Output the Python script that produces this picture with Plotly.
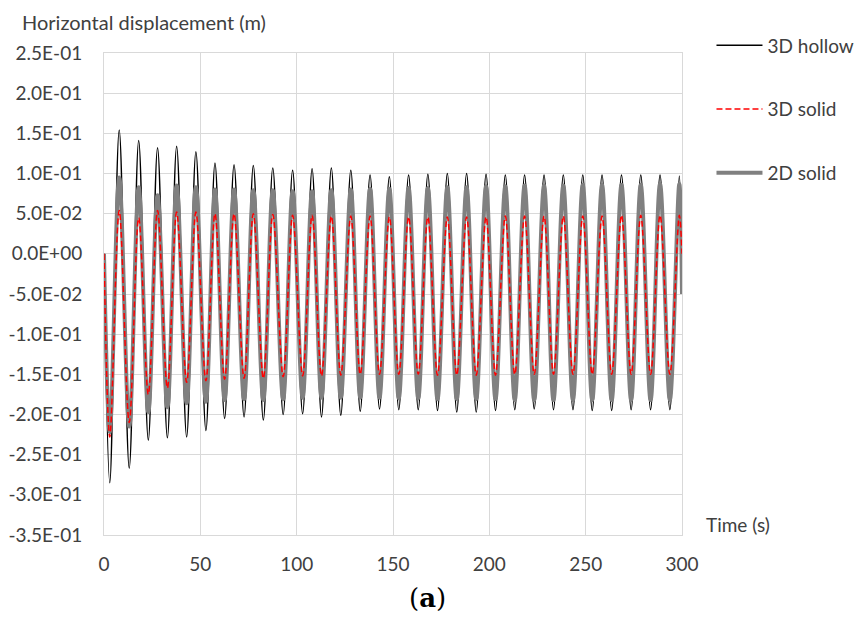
import plotly.graph_objects as go

# Times (s) of the troughs and peaks (all three series are in phase)
trough_t = [3.0, 13.1, 23.0, 32.9, 42.9, 52.9, 62.6, 72.7, 82.7, 93.0,
            103.1, 112.9, 122.9, 133.0, 143.0, 153.0, 163.1, 173.1, 183.1, 193.2,
            203.2, 213.2, 223.3, 233.3, 243.4, 253.4, 263.5, 273.6, 283.7, 293.7]
peak_t = [7.9, 18.0, 27.8, 37.7, 47.7, 57.6, 67.5, 77.5, 87.6, 97.9,
          108.0, 118.0, 128.1, 138.1, 148.1, 158.1, 168.1, 178.2, 188.2, 198.3,
          208.3, 218.3, 228.4, 238.4, 248.5, 258.5, 268.6, 278.6, 288.6, 298.6]
start_t = 0.0
end_t = 300.0

# 3D hollow (black)
hollow_troughs = [-0.285, -0.267, -0.232, -0.229, -0.228, -0.220, -0.205, -0.203, -0.207, -0.200,
                  -0.199, -0.203, -0.201, -0.196, -0.193, -0.194, -0.194, -0.195, -0.197, -0.197,
                  -0.195, -0.194, -0.193, -0.194, -0.194, -0.195, -0.195, -0.194, -0.194, -0.194]
hollow_peaks = [0.154, 0.141, 0.132, 0.134, 0.127, 0.113, 0.111, 0.110, 0.107, 0.104,
                0.106, 0.107, 0.104, 0.098, 0.096, 0.098, 0.099, 0.100, 0.100, 0.099,
                0.098, 0.098, 0.098, 0.098, 0.098, 0.098, 0.098, 0.098, 0.098, 0.097]
hollow_start, hollow_end = 0.0, -0.05

# 3D solid (red dashed)
solid3d_troughs = [-0.228, -0.210, -0.175, -0.167, -0.160, -0.158, -0.156, -0.155, -0.155, -0.153,
                   -0.152, -0.152, -0.151, -0.150, -0.150, -0.150, -0.150, -0.151, -0.151, -0.151,
                   -0.151, -0.150, -0.150, -0.150, -0.150, -0.150, -0.150, -0.150, -0.150, -0.150]
solid3d_peaks = [0.054, 0.045, 0.054, 0.052, 0.052, 0.050, 0.050, 0.050, 0.049, 0.048,
                 0.048, 0.047, 0.047, 0.047, 0.046, 0.046, 0.046, 0.046, 0.046, 0.046,
                 0.047, 0.047, 0.047, 0.047, 0.047, 0.047, 0.048, 0.048, 0.048, 0.048]
solid3d_start, solid3d_end = 0.0, 0.0

# 2D solid (grey)
solid2d_troughs = [-0.222, -0.215, -0.197, -0.191, -0.186, -0.184, -0.182, -0.181, -0.182, -0.181,
                   -0.179, -0.179, -0.179, -0.179, -0.179, -0.180, -0.180, -0.181, -0.181, -0.181,
                   -0.181, -0.182, -0.182, -0.182, -0.182, -0.182, -0.182, -0.182, -0.182, -0.182]
solid2d_peaks = [0.095, 0.083, 0.073, 0.085, 0.083, 0.080, 0.080, 0.079, 0.079, 0.078,
                 0.078, 0.079, 0.080, 0.081, 0.081, 0.082, 0.082, 0.083, 0.083, 0.084,
                 0.084, 0.085, 0.085, 0.085, 0.086, 0.086, 0.086, 0.086, 0.087, 0.087]
solid2d_start, solid2d_end = 0.0, -0.05

y_tickvals = [0.25, 0.20, 0.15, 0.10, 0.05, 0.0, -0.05, -0.10, -0.15, -0.20, -0.25, -0.30, -0.35]
y_ticktext = ["2.5E-01", "2.0E-01", "1.5E-01", "1.0E-01", "5.0E-02", "0.0E+00", "-5.0E-02",
              "-1.0E-01", "-1.5E-01", "-2.0E-01", "-2.5E-01", "-3.0E-01", "-3.5E-01"]
x_tickvals = [0, 50, 100, 150, 200, 250, 300]


def build(start, troughs, peaks, end):
    xs, ys = [start_t], [start]
    for tt, tv, pt, pv in zip(trough_t, troughs, peak_t, peaks):
        xs += [tt, pt]
        ys += [tv, pv]
    xs.append(end_t)
    ys.append(end)
    return xs, ys


FONT = "Lato"
TXT = "#404040"
fig = go.Figure()

x, y = build(hollow_start, hollow_troughs, hollow_peaks, hollow_end)
fig.add_trace(go.Scatter(x=x, y=y, mode="lines", name="3D hollow", legendrank=1,
                         legendgroup="a", line=dict(color="#000000", width=1.5,
                                                    shape="spline", smoothing=1.0)))
x, y = build(solid2d_start, solid2d_troughs, solid2d_peaks, solid2d_end)
fig.add_trace(go.Scatter(x=x, y=y, mode="lines", name="2D solid", legendrank=3,
                         legendgroup="c", line=dict(color="#808080", width=4,
                                                    shape="spline", smoothing=1.0)))
x, y = build(solid3d_start, solid3d_troughs, solid3d_peaks, solid3d_end)
fig.add_trace(go.Scatter(x=x, y=y, mode="lines", name="3D solid", legendrank=2,
                         legendgroup="b", line=dict(color="#ff0000", width=1.5, dash="6px,3px",
                                                    shape="spline", smoothing=1.0)))

fig.update_layout(
    width=855, height=619,
    margin=dict(l=104, r=173, t=53, b=84, autoexpand=False),
    paper_bgcolor="white", plot_bgcolor="white",
    font=dict(family=FONT, size=19, color=TXT),
    showlegend=True,
    legend=dict(x=1.051, xanchor="left", y=1.055, yanchor="top",
                traceorder="grouped", tracegroupgap=36,
                font=dict(family=FONT, size=19, color=TXT),
                itemwidth=46, bgcolor="rgba(0,0,0,0)"),
    xaxis=dict(range=[0, 300], tickvals=x_tickvals, showgrid=True,
               gridcolor="#d9d9d9", gridwidth=1, zeroline=False,
               showline=True, linecolor="#d9d9d9", mirror=True,
               ticks="", ticklabelstandoff=12, automargin=False,
               tickfont=dict(family=FONT, size=19, color=TXT)),
    yaxis=dict(range=[-0.35, 0.25], tickvals=y_tickvals, ticktext=y_ticktext,
               showgrid=True, gridcolor="#d9d9d9", gridwidth=1, zeroline=False,
               showline=True, linecolor="#d9d9d9", mirror=True,
               ticks="", ticklabelstandoff=17, automargin=False,
               tickfont=dict(family=FONT, size=19, color=TXT)),
    annotations=[
        dict(text="Horizontal displacement (m)", xref="paper", yref="paper",
             x=-0.145, y=1.0, yshift=31, xanchor="left", yanchor="middle",
             showarrow=False, font=dict(family=FONT, size=20, color=TXT)),
        dict(text="Time (s)", xref="paper", yref="paper",
             x=1.0, y=0.0, xshift=22, yshift=11, xanchor="left", yanchor="middle",
             showarrow=False, font=dict(family=FONT, size=19, color=TXT)),
        dict(text="(<b>a</b>)", xref="paper", yref="paper",
             x=0.5, y=0.0, xshift=34, yshift=-63, xanchor="center", yanchor="middle",
             showarrow=False, font=dict(family="DejaVu Serif", size=26, color="#000000")),
    ],
)

fig.write_html("out.html", config={"displayModeBar": False},
               post_script="document.body.style.margin='0';")
